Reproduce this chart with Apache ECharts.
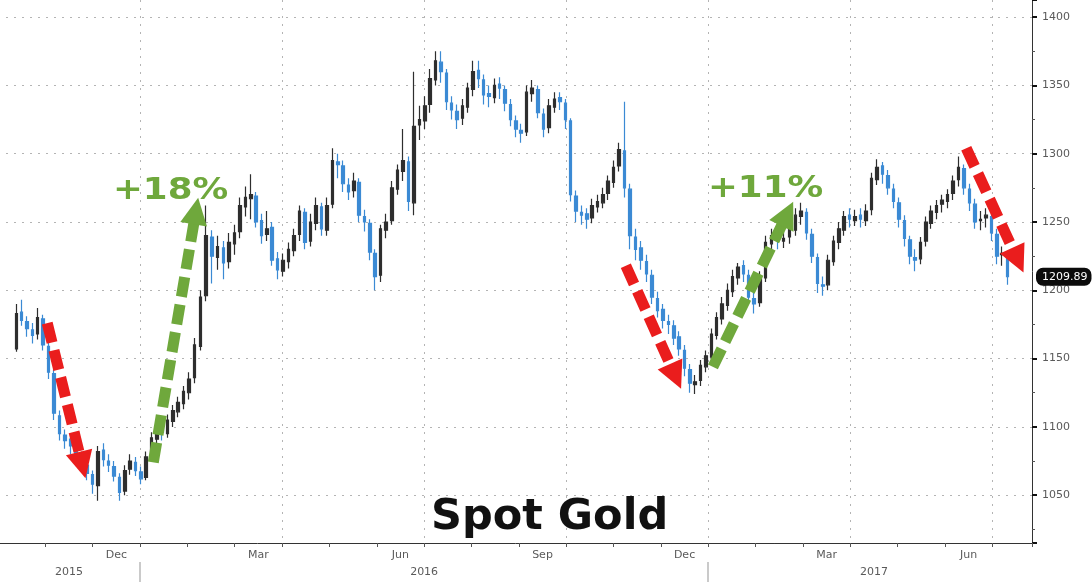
<!DOCTYPE html>
<html>
<head>
<meta charset="utf-8">
<title>Spot Gold</title>
<script src="https://cdn.jsdelivr.net/npm/echarts@6/dist/echarts.min.js"></script>
<style>
  html, body { margin: 0; padding: 0; background: #ffffff; }
  #chart { width: 1092px; height: 582px; }
</style>
</head>
<body>
<div id="chart"></div>
<script>
// Spot gold, half-week OHLC bars starting Monday 12 Oct 2015 (one bar every 3.5 calendar days)
const firstBarDate = '2015-10-12';
const barStepDays = 3.5;

// [open, close, low, high]
const ohlc = [
  [1157,1183,1155,1190],[1184,1178,1174,1193],[1177,1172,1166,1181],[1171,1167,1161,1176],
  [1168,1180,1164,1187],[1179,1160,1156,1182],[1159,1140,1135,1162],[1139,1110,1105,1142],
  [1108,1095,1090,1112],[1094,1090,1084,1098],[1091,1086,1080,1094],[1085,1078,1074,1089],
  [1079,1073,1068,1082],[1072,1066,1061,1076],[1065,1058,1051,1068],[1057,1082,1046,1086],
  [1083,1076,1071,1088],[1075,1072,1067,1080],[1071,1064,1060,1075],[1063,1052,1046,1066],
  [1053,1068,1050,1072],[1069,1075,1065,1080],[1074,1068,1064,1078],[1067,1062,1058,1071],
  [1063,1078,1061,1082],[1077,1092,1075,1096],[1091,1100,1087,1104],[1101,1096,1090,1106],
  [1095,1105,1092,1109],[1104,1112,1100,1116],[1111,1118,1107,1122],[1117,1126,1113,1130],
  [1125,1135,1120,1140],[1136,1160,1132,1165],[1159,1195,1156,1200],[1196,1240,1192,1262],
  [1239,1225,1205,1244],[1224,1232,1215,1240],[1231,1220,1208,1236],[1221,1235,1216,1242],
  [1234,1242,1226,1248],[1243,1262,1238,1268],[1261,1268,1254,1276],[1267,1270,1252,1285],
  [1269,1250,1246,1272],[1251,1240,1234,1256],[1241,1245,1236,1258],[1246,1222,1218,1250],
  [1223,1215,1208,1228],[1214,1222,1210,1227],[1221,1230,1216,1235],[1229,1240,1225,1245],
  [1241,1258,1236,1262],[1257,1235,1230,1260],[1236,1250,1232,1256],[1249,1262,1244,1268],
  [1261,1245,1240,1264],[1244,1262,1240,1268],[1263,1295,1260,1304],[1294,1292,1282,1300],
  [1291,1278,1272,1295],[1277,1272,1266,1282],[1273,1280,1268,1286],[1279,1255,1250,1282],
  [1254,1250,1243,1259],[1249,1228,1222,1252],[1227,1210,1200,1230],[1211,1245,1206,1248],
  [1244,1250,1238,1256],[1251,1275,1248,1280],[1274,1288,1270,1292],[1287,1295,1280,1318],
  [1294,1265,1258,1298],[1264,1320,1255,1360],[1321,1325,1310,1335],[1324,1335,1318,1342],
  [1336,1355,1330,1362],[1354,1368,1350,1375],[1367,1360,1352,1375],[1359,1338,1332,1362],
  [1337,1332,1325,1342],[1331,1325,1318,1336],[1326,1335,1321,1340],[1334,1348,1330,1352],
  [1347,1360,1342,1368],[1361,1355,1348,1368],[1354,1343,1336,1358],[1344,1342,1334,1350],
  [1341,1350,1337,1355],[1351,1348,1340,1356],[1347,1337,1331,1350],[1336,1325,1320,1340],
  [1324,1318,1312,1328],[1317,1315,1308,1322],[1316,1345,1313,1350],[1344,1348,1338,1354],
  [1347,1330,1326,1350],[1329,1318,1312,1333],[1319,1335,1315,1340],[1334,1340,1330,1345],
  [1341,1338,1332,1345],[1337,1325,1318,1340],[1324,1270,1265,1326],[1269,1258,1250,1273],
  [1257,1255,1248,1262],[1256,1252,1245,1260],[1253,1262,1249,1267],[1261,1265,1257,1270],
  [1264,1270,1260,1275],[1271,1280,1266,1284],[1279,1290,1275,1295],[1291,1303,1287,1308],
  [1302,1275,1268,1338],[1274,1240,1230,1278],[1239,1230,1222,1245],[1231,1222,1215,1236],
  [1221,1212,1206,1226],[1211,1195,1190,1215],[1194,1185,1180,1199],[1186,1178,1172,1190],
  [1177,1175,1168,1182],[1174,1165,1160,1178],[1166,1157,1152,1170],[1156,1143,1137,1160],
  [1142,1132,1125,1146],[1131,1133,1124,1138],[1134,1145,1130,1149],[1144,1152,1140,1156],
  [1151,1168,1148,1172],[1167,1180,1164,1184],[1179,1190,1175,1195],[1189,1200,1185,1205],
  [1199,1210,1195,1215],[1209,1217,1204,1220],[1218,1212,1206,1222],[1211,1195,1190,1215],
  [1194,1190,1183,1200],[1191,1210,1188,1214],[1209,1235,1206,1240],[1234,1240,1229,1245],
  [1241,1237,1230,1246],[1236,1238,1231,1243],[1239,1245,1234,1250],[1244,1255,1240,1260],
  [1254,1258,1248,1264],[1257,1242,1237,1260],[1241,1225,1220,1245],[1224,1205,1198,1227],
  [1204,1203,1196,1210],[1204,1222,1200,1226],[1221,1236,1218,1240],[1235,1245,1230,1250],
  [1244,1254,1240,1258],[1255,1252,1246,1260],[1251,1254,1247,1259],[1255,1252,1246,1260],
  [1251,1258,1247,1263],[1259,1282,1255,1286],[1281,1290,1277,1296],[1291,1285,1278,1294],
  [1284,1275,1270,1288],[1274,1265,1260,1278],[1264,1252,1246,1268],[1251,1238,1232,1255],
  [1237,1225,1219,1240],[1224,1222,1214,1230],[1223,1235,1219,1239],[1236,1250,1232,1254],
  [1249,1258,1245,1262],[1257,1262,1252,1266],[1263,1266,1257,1270],[1265,1270,1260,1274],
  [1271,1280,1266,1284],[1281,1290,1276,1298],[1289,1275,1270,1292],[1274,1264,1258,1278],
  [1263,1250,1245,1267],[1251,1252,1244,1258],[1253,1255,1246,1260],[1254,1242,1236,1258],
  [1241,1225,1219,1245],[1226,1227,1218,1232],[1226,1209.89,1204,1229]
];

const monthLabels = ['Dec', 'Mar', 'Jun', 'Sep', 'Dec', 'Mar', 'Jun'];
const yearLabels = ['2015', '2016', '2017'];
const chartTitle = 'Spot Gold';
const moveLabels = ['+18%', '+11%'];

// Trend arrows, given as [monthPosition, price] from tail to head
const trendArrows = [
  { kind: 'down', from: [1.04, 1176], to: [1.78, 1072] },
  { kind: 'up',   from: [3.28, 1074], to: [4.18, 1258] },
  { kind: 'down', from: [13.26, 1218], to: [14.31, 1137] },
  { kind: 'up',   from: [15.10, 1144], to: [16.67, 1256] },
  { kind: 'down', from: [20.45, 1304], to: [21.54, 1222] }
];

const UP = '#2e2e2e';
const DOWN = '#3b8ad4';
const RED = '#ea1d1d';
const GREEN = '#6fa83c';
const FONT = '"DejaVu Sans", Verdana, sans-serif';

const DAY = 86400000;
// fractional months since 1 Oct 2015
function monthPos(t) {
  const d = new Date(t);
  const y = d.getUTCFullYear(), mo = d.getUTCMonth();
  const dim = new Date(Date.UTC(y, mo + 1, 0)).getUTCDate();
  return (y - 2015) * 12 + (mo - 9) + (d.getUTCDate() - 1 + d.getUTCHours() / 24) / dim;
}

const t0 = Date.parse(firstBarDate + 'T00:00:00Z');
const candles = ohlc.map((r, i) => [monthPos(t0 + (i * barStepDays + 1) * DAY), r[0], r[1], r[2], r[3]]);
const lastClose = ohlc[ohlc.length - 1][1];

const X_MIN = 0;                                              // 1 Oct 2015
const X_MAX = monthPos(Date.parse('2017-07-27T00:00:00Z'));
const Y_MIN = 1015;
const Y_MAX = 1412.5;

// month names sit in the middle of the last month of each quarter
const monthLabelPos = monthLabels.map((s, k) => 2.5 + 3 * k);
// year names sit in the middle of the visible part of each year
const yearLabelPos = yearLabels.map(s => {
  const y = Number(s);
  const a = Math.max(X_MIN, (y - 2015) * 12 - 9);
  const b = Math.min(X_MAX, (y - 2015) * 12 + 3);
  return Math.round(a + b) / 2;
});
const yearBounds = yearLabels.slice(1).map(s => (Number(s) - 2015) * 12 - 9);

function labelAt(positions, labels) {
  return function (v) {
    for (let k = 0; k < positions.length; k++) {
      if (Math.abs(v - positions[k]) < 1e-6) return labels[k];
    }
    return '';
  };
}

const hiddenAxisParts = {
  axisLine: { show: false }, axisTick: { show: false }, splitLine: { show: false }
};

const chart = echarts.init(document.getElementById('chart'), null, { renderer: 'canvas' });

chart.setOption({
  animation: false,
  backgroundColor: '#ffffff',
  title: {
    text: chartTitle,
    left: 431,
    top: 496,
    padding: 0,
    textStyle: { fontFamily: FONT, fontWeight: 'bold', fontSize: 43, color: '#111111' }
  },
  grid: [
    { left: -2, right: 60, top: 0, height: 543, outerBoundsMode: 'none' },
    { left: -2, right: 60, top: 562, height: 20, outerBoundsMode: 'none' }
  ],
  xAxis: [
    {
      type: 'value', gridIndex: 0, position: 'bottom', min: X_MIN, max: X_MAX, interval: 1,
      axisLine: { show: true, onZero: false, lineStyle: { color: '#333333', width: 1 } },
      axisTick: { show: true, length: 4, lineStyle: { color: '#555555' } },
      axisLabel: { show: false },
      splitLine: { show: false }
    },
    {
      type: 'value', gridIndex: 0, position: 'bottom', min: X_MIN, max: X_MAX, interval: 3,
      axisLine: { show: false }, axisTick: { show: false }, axisLabel: { show: false },
      splitLine: {
        show: true, showMinLine: false, showMaxLine: false,
        lineStyle: { color: '#b4b4b4', width: 1, type: [2, 6] }
      }
    },
    Object.assign({
      type: 'value', gridIndex: 0, position: 'bottom', min: X_MIN, max: X_MAX, interval: 0.5,
      axisLabel: {
        show: true, margin: 7, color: '#5a5a5a', fontSize: 11, fontFamily: FONT,
        formatter: labelAt(monthLabelPos, monthLabels)
      }
    }, hiddenAxisParts),
    Object.assign({
      type: 'value', gridIndex: 0, position: 'bottom', min: X_MIN, max: X_MAX, interval: 0.5,
      axisLabel: {
        show: true, margin: 24, color: '#5a5a5a', fontSize: 11, fontFamily: FONT,
        formatter: labelAt(yearLabelPos, yearLabels)
      }
    }, hiddenAxisParts),
    {
      type: 'value', gridIndex: 1, min: X_MIN, max: X_MAX, show: false
    }
  ],
  yAxis: [
    {
      type: 'value', gridIndex: 0, position: 'right', min: Y_MIN, max: Y_MAX, splitNumber: 8,
      axisLine: { show: true, onZero: false, lineStyle: { color: '#333333', width: 1 } },
      axisTick: { show: true, length: 5, lineStyle: { color: '#111111', width: 2 } },
      minorTick: { show: true, splitNumber: 2, length: 3, lineStyle: { color: '#555555' } },
      axisLabel: {
        margin: 10, color: '#5a5a5a', fontSize: 11, fontFamily: FONT,
        formatter: v => (Math.abs(v % 50) < 1e-9 ? String(v) : '')
      },
      splitLine: {
        show: true, showMinLine: false, showMaxLine: false,
        lineStyle: { color: '#b4b4b4', width: 1, type: [2, 6] }
      },
      axisPointer: {
        show: true, type: 'line', value: lastClose, status: 'show', snap: false,
        triggerTooltip: false,
        lineStyle: { opacity: 0 },
        label: {
          show: true, backgroundColor: '#0b0b0b', color: '#ffffff',
          borderRadius: 7, padding: [4, 4, 3, 6], fontSize: 11, fontFamily: FONT, margin: 4,
          formatter: p => Number(p.value).toFixed(2)
        }
      }
    },
    { type: 'value', gridIndex: 1, min: 0, max: 1, show: false }
  ],
  series: [
    {
      type: 'candlestick',
      name: 'Spot Gold',
      xAxisIndex: 0,
      yAxisIndex: 0,
      data: candles,
      encode: { x: 0, y: [1, 2, 3, 4] },
      barWidth: 3,
      itemStyle: { color: UP, color0: DOWN, borderColor: UP, borderColor0: DOWN, borderWidth: 1.2 },
      markLine: {
        silent: true,
        symbol: ['none', 'triangle'],
        symbolSize: 27,
        label: { show: false },
        emphasis: { disabled: true },
        data: trendArrows.map(a => {
          const c = a.kind === 'up' ? GREEN : RED;
          return [
            { coord: a.from, lineStyle: { color: c, width: 11, type: [20, 8], cap: 'butt' }, itemStyle: { color: c } },
            { coord: a.to }
          ];
        })
      }
    },
    {
      type: 'line',
      xAxisIndex: 4,
      yAxisIndex: 1,
      data: [],
      markLine: {
        silent: true,
        symbol: ['none', 'none'],
        label: { show: false },
        lineStyle: { color: '#b8b8b8', width: 1.5, type: 'solid' },
        data: yearBounds.map(b => ({ xAxis: b }))
      }
    }
  ],
  graphic: [
    {
      type: 'text', x: 113, y: 175, scaleX: 1.15, silent: true,
      style: { text: moveLabels[0], font: 'bold 31px ' + FONT, fill: GREEN, verticalAlign: 'top' }
    },
    {
      type: 'text', x: 708, y: 173, scaleX: 1.15, silent: true,
      style: { text: moveLabels[1], font: 'bold 31px ' + FONT, fill: GREEN, verticalAlign: 'top' }
    }
  ]
});
</script>
</body>
</html>
